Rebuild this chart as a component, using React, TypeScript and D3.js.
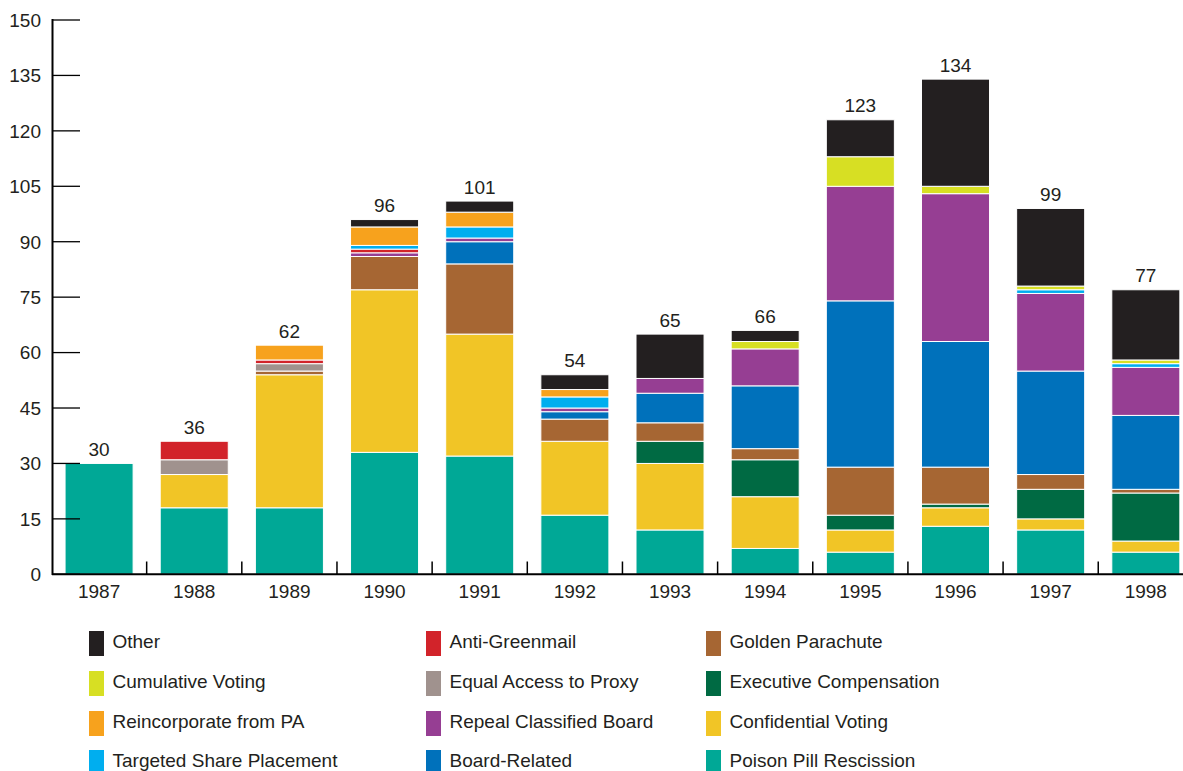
import React from "react";
import * as d3 from "d3";

// Years shown along the x axis
const years = ["1987", "1988", "1989", "1990", "1991", "1992", "1993", "1994", "1995", "1996", "1997", "1998"];

// Proposal counts per year, one array per proposal type (stacked bottom to top)
const poisonPill = [30, 18, 18, 33, 32, 16, 12, 7, 6, 13, 12, 6];
const confidentialVoting = [0, 9, 36, 44, 33, 20, 18, 14, 6, 5, 3, 3];
const executiveComp = [0, 0, 0, 0, 0, 0, 6, 10, 4, 1, 8, 13];
const goldenParachute = [0, 0, 1, 9, 19, 6, 5, 3, 13, 10, 4, 1];
const boardRelated = [0, 0, 0, 0, 6, 2, 8, 17, 45, 34, 28, 20];
const repealClassified = [0, 0, 0, 1, 1, 1, 4, 10, 31, 40, 21, 13];
const equalAccess = [0, 4, 2, 0, 0, 0, 0, 0, 0, 0, 0, 0];
const antiGreenmail = [0, 5, 1, 1, 0, 0, 0, 0, 0, 0, 0, 0];
const targetedShare = [0, 0, 0, 1, 3, 3, 0, 0, 0, 0, 1, 1];
const reincorporatePA = [0, 0, 4, 5, 4, 2, 0, 0, 0, 0, 0, 0];
const cumulativeVoting = [0, 0, 0, 0, 0, 0, 0, 2, 8, 2, 1, 1];
const other = [0, 0, 0, 2, 3, 4, 12, 3, 10, 29, 21, 19];

// Y axis tick values
const yTicks = [0, 15, 30, 45, 60, 75, 90, 105, 120, 135, 150];

// Series definitions in stacking order
const series = [
  { key: "Poison Pill Rescission", values: poisonPill, color: "#00a896" },
  { key: "Confidential Voting", values: confidentialVoting, color: "#f1c526" },
  { key: "Executive Compensation", values: executiveComp, color: "#006a43" },
  { key: "Golden Parachute", values: goldenParachute, color: "#a66633" },
  { key: "Board-Related", values: boardRelated, color: "#0071bb" },
  { key: "Repeal Classified Board", values: repealClassified, color: "#963e93" },
  { key: "Equal Access to Proxy", values: equalAccess, color: "#a0928e" },
  { key: "Anti-Greenmail", values: antiGreenmail, color: "#d2232a" },
  { key: "Targeted Share Placement", values: targetedShare, color: "#00aeef" },
  { key: "Reincorporate from PA", values: reincorporatePA, color: "#f7a21d" },
  { key: "Cumulative Voting", values: cumulativeVoting, color: "#d7df23" },
  { key: "Other", values: other, color: "#231f20" },
];

// Legend layout: columns of series keys
const legendColumns = [
  ["Other", "Cumulative Voting", "Reincorporate from PA", "Targeted Share Placement"],
  ["Anti-Greenmail", "Equal Access to Proxy", "Repeal Classified Board", "Board-Related"],
  ["Golden Parachute", "Executive Compensation", "Confidential Voting", "Poison Pill Rescission"],
];

const W = 1183;
const H = 771;
const FONT = "'Liberation Sans', Arial, Helvetica, sans-serif";
const TEXT = "#231f20";
const FS = 19;

export default function App() {
  const rows = years.map((y, i) => {
    const r: Record<string, any> = { year: y };
    series.forEach((s) => (r[s.key] = s.values[i]));
    return r;
  });
  const stack = d3.stack<any>().keys(series.map((s) => s.key));
  const layers = stack(rows);
  const totals = years.map((_, i) => d3.sum(series, (s) => s.values[i]));

  const x = d3
    .scaleBand<string>()
    .domain(years)
    .range([51.5, 1193.4])
    .paddingInner(0.285)
    .paddingOuter(0.1425);
  const step = x.step();
  const x0 = 51.5;
  const y = d3.scaleLinear().domain([0, 150]).range([574.3, 20]);

  const colorOf = new Map(series.map((s) => [s.key, s.color]));
  const legendX = [89, 426, 706];
  const legendY = [631, 671, 711, 750];

  return (
    <svg
      width={W}
      height={H}
      style={{ position: "absolute", left: 0, top: 0, display: "block", background: "#fff" }}
      fontFamily={FONT}
    >
      {/* stacked bars */}
      {layers.map((layer) => (
        <g key={layer.key} fill={colorOf.get(layer.key)}>
          {layer.map((d, i) =>
            d[1] - d[0] > 0 ? (
              <rect
                key={i}
                x={x(years[i])}
                width={x.bandwidth()}
                y={y(d[1])}
                height={y(d[0]) - y(d[1])}
                stroke="#fff"
                strokeWidth={1}
              />
            ) : null
          )}
        </g>
      ))}

      {/* total labels */}
      {years.map((yr, i) => (
        <text
          key={yr}
          x={(x(yr) as number) + x.bandwidth() / 2}
          y={y(totals[i]) - 7.5}
          textAnchor="middle"
          fontSize={FS}
          fill={TEXT}
        >
          {totals[i]}
        </text>
      ))}

      {/* y axis */}
      <line x1={52.5} x2={52.5} y1={19} y2={575} stroke="#000" strokeWidth={2} />
      {yTicks.map((t) => (
        <g key={t}>
          <line x1={52} x2={80} y1={y(t)} y2={y(t)} stroke="#000" strokeWidth={1.3} />
          <text x={41} y={y(t) + 6.8} textAnchor="end" fontSize={FS} fill={TEXT}>
            {t}
          </text>
        </g>
      ))}

      {/* x axis */}
      <line x1={52} x2={W} y1={574.3} y2={574.3} stroke="#000" strokeWidth={2} />
      {years.map((yr, i) =>
        i > 0 ? (
          <line
            key={"t" + yr}
            x1={x0 + step * i}
            x2={x0 + step * i}
            y1={561.5}
            y2={574}
            stroke="#000"
            strokeWidth={1.5}
          />
        ) : null
      )}
      {years.map((yr) => (
        <text
          key={"l" + yr}
          x={(x(yr) as number) + x.bandwidth() / 2}
          y={598}
          textAnchor="middle"
          fontSize={FS}
          fill={TEXT}
        >
          {yr}
        </text>
      ))}

      {/* legend */}
      {legendColumns.map((col, ci) =>
        col.map((key, ri) => (
          <g key={key} transform={`translate(${legendX[ci]},${legendY[ri]})`}>
            <rect width={15} height={25} fill={colorOf.get(key)} />
            <text x={23.5} y={17} fontSize={FS} fill={TEXT}>
              {key}
            </text>
          </g>
        ))
      )}
    </svg>
  );
}
